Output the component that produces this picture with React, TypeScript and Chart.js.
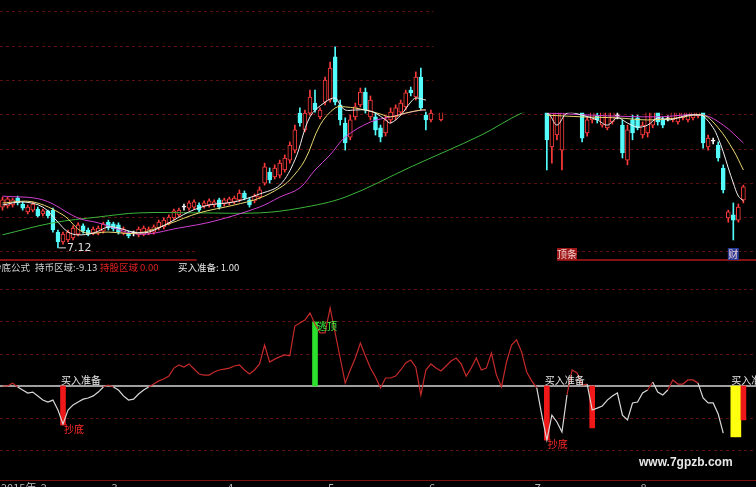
import React, { useEffect, useRef } from 'react';
import { Chart, registerables } from 'chart.js';
Chart.register(...registerables);

type OHLC = [number, number, number, number] | null; // open, high, low, close

const N = 150;
const barLabels = Array.from({ length: N }, (_, i) => String(i));

const candles: OHLC[] = [
  [8.31, 8.6, 8.22, 8.52], [8.34, 8.6, 8.28, 8.55], [8.37, 8.57, 8.31, 8.52], [8.57, 8.63, 8.37, 8.43],
  [8.4, 8.46, 8.22, 8.28], [8.17, 8.37, 8.11, 8.31], [8.22, 8.46, 8.17, 8.4], [8.25, 8.31, 8.02, 8.05],
  [8.11, 8.25, 8.05, 8.2], [8.2, 8.22, 7.99, 8.05], [8.22, 8.28, 7.58, 7.64], [7.58, 7.64, 7.12, 7.29],
  [7.29, 7.58, 7.23, 7.52], [7.35, 7.64, 7.29, 7.58], [7.41, 7.76, 7.35, 7.7], [7.52, 7.85, 7.47, 7.79],
  [7.76, 7.82, 7.55, 7.61], [7.64, 7.7, 7.47, 7.52], [7.55, 7.73, 7.5, 7.67], [7.55, 7.76, 7.5, 7.7],
  [7.61, 7.87, 7.55, 7.82], [7.87, 7.93, 7.64, 7.7], [7.82, 7.87, 7.61, 7.67], [7.79, 7.85, 7.52, 7.58],
  [7.55, 7.73, 7.5, 7.67], [7.55, 7.61, 7.41, 7.47], [7.56, 7.61, 7.47, 7.55], [7.5, 7.73, 7.44, 7.67],
  [7.52, 7.76, 7.47, 7.7], [7.55, 7.73, 7.5, 7.67], [7.58, 7.79, 7.52, 7.73], [7.7, 7.93, 7.64, 7.87],
  [7.73, 7.99, 7.67, 7.93], [7.85, 8.08, 7.79, 8.02], [7.99, 8.25, 7.93, 8.2], [8.08, 8.28, 8.02, 8.22],
  [8.32, 8.4, 8.22, 8.31], [8.28, 8.49, 8.22, 8.43], [8.31, 8.52, 8.25, 8.46], [8.37, 8.43, 8.17, 8.22],
  [8.34, 8.49, 8.28, 8.43], [8.37, 8.55, 8.31, 8.49], [8.37, 8.52, 8.31, 8.46], [8.52, 8.57, 8.25, 8.31],
  [8.4, 8.57, 8.34, 8.52], [8.43, 8.6, 8.37, 8.55], [8.46, 8.63, 8.4, 8.57], [8.52, 8.81, 8.46, 8.72],
  [8.72, 8.78, 8.52, 8.57], [8.52, 8.57, 8.31, 8.37], [8.49, 8.69, 8.43, 8.63], [8.6, 8.9, 8.55, 8.81],
  [9.01, 9.59, 8.95, 9.48], [9.33, 9.45, 9.01, 9.1], [9.19, 9.54, 9.13, 9.45], [9.24, 9.68, 9.16, 9.59],
  [9.39, 9.83, 9.33, 9.74], [9.68, 10.21, 9.59, 10.12], [9.97, 10.7, 9.89, 10.56], [11.05, 11.2, 10.67, 10.76],
  [10.56, 11.14, 10.5, 11.05], [11.05, 11.72, 10.99, 11.52], [11.34, 11.72, 11.08, 11.14], [10.94, 11.2, 10.88, 11.14],
  [11.37, 12.1, 11.29, 12.01], [11.43, 12.54, 11.37, 12.36], [12.69, 12.98, 11.29, 11.37], [11.29, 11.43, 10.7, 10.85],
  [10.76, 10.91, 9.97, 10.18], [10.35, 10.99, 10.27, 10.85], [10.94, 11.34, 10.85, 11.23], [11.29, 11.78, 11.23, 11.66],
  [11.66, 11.78, 11.05, 11.14], [10.94, 11.55, 10.85, 11.43], [10.94, 11.05, 10.41, 10.56], [10.62, 10.7, 10.21, 10.35],
  [10.47, 10.97, 10.38, 10.85], [10.85, 11.2, 10.76, 11.08], [10.94, 11.29, 10.85, 11.2], [11.08, 11.43, 10.99, 11.34],
  [11.23, 11.72, 11.14, 11.64], [11.72, 11.81, 11.55, 11.64], [11.52, 12.25, 11.43, 12.1], [12.1, 12.36, 11.14, 11.2],
  [10.99, 11.08, 10.56, 10.85], [10.85, 11.14, 10.79, 11.05], null, [10.85, 11.2, 10.82, 11.14],
  null, null, null, null, null, null, null, null, null, null,
  null, null, null, null, null, null, null, null, null, null,
  [11.43, 11.58, 9.39, 10.27], [10.06, 11.43, 9.59, 11.29], [10.41, 11.34, 10.27, 11.2], [9.97, 11.43, 9.39, 11.29],
  null, null, null,
  [11.29, 11.4, 10.21, 10.32], [10.47, 10.94, 10.38, 10.85], [10.85, 11.4, 10.76, 11.29], [10.97, 11.05, 10.76, 10.85],
  [10.7, 11.4, 10.64, 11.29], [10.62, 11.4, 10.56, 11.29], [10.79, 11.4, 10.73, 11.29], [10.98, 11.08, 10.88, 10.97],
  [10.7, 10.85, 9.74, 9.89], [9.68, 10.7, 9.54, 10.56], [10.85, 10.99, 10.27, 10.47], [10.91, 10.99, 10.56, 10.62],
  [10.41, 10.79, 10.32, 10.7], [10.47, 11.4, 10.35, 11.29], [10.7, 11.4, 10.62, 11.29], [11.29, 11.4, 10.7, 10.79],
  [10.85, 10.94, 10.62, 10.7], [10.89, 10.97, 10.82, 10.88], [10.85, 11.4, 10.79, 11.29], [10.79, 11.4, 10.73, 11.29],
  [10.91, 11.4, 10.85, 11.29], [10.85, 11.4, 10.79, 11.29], [10.91, 11.4, 10.85, 11.29], [10.97, 11.4, 10.91, 11.29],
  [11.29, 11.4, 10.03, 10.18], [10.06, 10.41, 9.97, 10.32], [10.24, 10.32, 10.15, 10.23], [10.12, 10.21, 9.65, 9.74],
  [9.45, 9.54, 8.72, 8.81], [7.99, 8.22, 7.87, 8.17], [8.08, 8.43, 7.35, 7.93], [7.93, 8.4, 7.87, 8.31],
  [8.52, 8.95, 8.43, 8.9], null, null,
];

// moving averages read at sample bars
const ma5Idx = [0, 4, 8, 11, 13, 15, 18, 21, 23, 26, 29, 33, 37, 41, 46, 51, 55, 58, 61, 64, 66, 67, 68, 70, 72, 74, 76, 77, 79, 81, 82, 84,
  108, 110, 112, 115, 118, 120, 122, 124, 126, 128, 130, 132, 134, 136, 138, 139, 141, 142, 143, 144, 145, 146, 147];
const ma5Val = [8.37, 8.46, 8.31, 7.87, 7.58, 7.5, 7.55, 7.73, 7.7, 7.58, 7.58, 7.85, 8.17, 8.37, 8.46, 8.69, 8.95, 9.68, 10.94, 11.37, 11.49, 11.29, 11.14, 11.14, 11.14, 11.05, 10.85, 10.76, 10.99, 11.37, 11.49, 11.43,
  11.05, 10.7, 11.05, 10.99, 10.85, 10.7, 10.91, 10.76, 10.64, 10.7, 10.91, 10.85, 10.91, 10.99, 10.99, 10.97, 10.62, 10.32, 9.92, 9.45, 9.01, 8.63, 8.49];
const ma10Idx = [0, 6, 12, 16, 21, 27, 33, 39, 46, 51, 55, 57, 60, 63, 66, 68, 72, 75, 77, 80, 83, 84,
  108, 115, 122, 128, 134, 139, 142, 145, 147];
const ma10Val = [8.43, 8.46, 8.08, 7.58, 7.58, 7.55, 7.82, 8.14, 8.37, 8.57, 8.87, 9.1, 9.68, 10.7, 11.2, 11.23, 11.14, 11.02, 10.94, 11.05, 11.14, 11.14,
  10.99, 10.94, 10.91, 10.85, 10.91, 10.99, 10.62, 9.97, 9.39];
const ma20Idx = [0, 8, 15, 19, 27, 35, 42, 51, 55, 59, 62, 65, 68, 73, 77, 81, 84, 108, 120, 130, 139, 143, 147];
const ma20Val = [8.63, 8.52, 7.99, 7.85, 7.52, 7.7, 7.9, 8.31, 8.6, 8.87, 9.39, 9.83, 10.35, 10.79, 10.94, 11.08, 11.14, 11.05, 10.97, 10.94, 10.99, 10.7, 10.18];
const ma60Idx = [0, 10, 19, 27, 39, 51, 59, 68, 81, 95, 103, 106];
const ma60Val = [7.5, 7.85, 8.02, 8.14, 8.14, 8.14, 8.28, 8.6, 9.48, 10.41, 11.05, 11.14];

// lower indicator (抄底公式)
const indicator: (number | null)[] = [
  0, 0, 0.9, -0.3, -1.25, -2.2, -1.9, -3.1, -4.4, -5, -4.4, -7.5, -11.9, -7.5, -5.9, -5, -4.1, -3.75, -3.1, -1.9,
  -0.3, 0.3, -0.3, -1.25, -3.1, -4.4, -4.1, -2.5, -1.25, -0.3, 0.6, 1.6, 2.2, 3.1, 5.6, 6.6, 5.9, 6.9, 5.3, 3.75,
  3.4, 3.4, 4.4, 5, 5.3, 5.6, 6.25, 6.6, 5, 3.75, 5, 6.9, 12.8, 7.5, 8.4, 9.1, 9.7, 9.4, 18.75, 19.7,
  20.6, 22.8, 19.4, 16.6, 16.6, 24.4, 16.6, 8.75, 0.9, 5, 8.75, 13.4, 9.4, 5.6, 2.8, -0.6, 2.5, 2.5, 3.1, 5,
  7.2, 8.1, 5.9, -2.8, 5, 6.9, 5.6, 4.7, 6.25, 7.8, 8.75, 6.9, 3.1, 5.6, 8.75, 5, 5.6, 10.3, 3.4, -0.3,
  7.5, 12.8, 14.4, 10.6, 4.4, 1.6, -0.6, -9.1, -16.9, -9.1, -11.25, -14.4, -2.8, 5, 4.1, 0.3, 0.6, -7.5, -6.9, -6.25,
  -4.4, -3.1, -2.2, -9.1, -10.6, -5.3, -5, -2.2, -1.25, 1.25, -1.9, -2.8, -1.25, 1.9, 0.6, 0.6, 1.9, 1.9, 0.9, -3.75,
  -5.3, -5.3, -8.75, -14.7, null, null, null, null, null, null,
];

const sigIdx = [12, 62, 108, 117, 145, 146, 147];
const sigVal = [-12.2, 20, -16.9, -13.1, -15.9, -15.9, -10.6];
const sigKind = ['buy', 'top', 'buy', 'buy', 'warn', 'warn', 'buy'];
const buyLabelIdx = [12, 108, 145];
const bottomLabelIdx = [12, 108];
const topLabelIdx = [62];

const dateTickIdx = [0, 8, 22, 45, 65, 85, 106, 127];
const dateTickText = ['2015年', '2', '3', '4', '5', '6', '7', '8'];

const markIdx = [112, 145];
const markText = ['顶条', '财'];

const topGrid = [7, 8, 9, 10, 11, 12, 13, 14];
const botGrid = [30, 20, 10, -10, -20];

const CJK = '"Noto Sans CJK SC", "DejaVu Sans", sans-serif';

export default function App() {
  const topRef = useRef<HTMLCanvasElement>(null);
  const botRef = useRef<HTMLCanvasElement>(null);

  useEffect(() => {
    document.body.style.margin = '0';
    document.body.style.background = '#000';
    const RED = '#ff3c3c';
    const CYAN = '#54fcfc';
    const WHITE = '#f2f2f2';
    const colorOf = (c: OHLC) => (!c ? 'rgba(0,0,0,0)' : Math.abs(c[0] - c[3]) < 0.03 ? WHITE : c[3] > c[0] ? RED : CYAN);
    const points = (idx: number[], val: number[]) => idx.map((k, j) => ({ x: barLabels[k], y: val[j] }));
    const maLine = (label: string, data: any[], color: string) => ({
      type: 'line' as const, label, data, borderColor: color, borderWidth: 1, pointRadius: 0,
      spanGaps: 16, tension: 0.35, order: 0,
    });

    const topPlugin = {
      id: 'topDecor',
      afterDatasetsDraw(chart: any) {
        const { ctx, chartArea: ca, scales } = chart;
        const x = scales.x, y = scales.y;
        ctx.save();
        ctx.strokeStyle = '#b01818';
        ctx.lineWidth = 1.5;
        ctx.beginPath();
        ctx.moveTo(ca.left, ca.bottom - 2);
        ctx.lineTo(ca.right, ca.bottom - 2);
        ctx.stroke();
        // blacked-out areas of the original screenshot
        ctx.fillStyle = '#000';
        const m1x = x.getPixelForValue(85) + 2.6;
        ctx.fillRect(m1x, ca.top, ca.right - m1x, y.getPixelForValue(11.06) - ca.top);
        const m2a = x.getPixelForValue(38) + 2.6;
        const m2b = x.getPixelForValue(110);
        const m2y = y.getPixelForValue(7.76);
        ctx.fillRect(m2a, m2y, m2b - m2a, ca.bottom - m2y);
        // event markers
        ctx.font = `10px ${CJK}`;
        ctx.textBaseline = 'middle';
        markIdx.forEach((k, j) => {
          const px = x.getPixelForValue(k);
          const w = markText[j].length * 9 + 2;
          ctx.fillStyle = j === 0 ? '#a01818' : '#2a3c9a';
          ctx.fillRect(px - w / 2, ca.bottom - 14, w, 12);
          ctx.fillStyle = '#f0d0d0';
          ctx.textAlign = 'center';
          ctx.fillText(markText[j], px, ca.bottom - 8);
        });
        // lowest price label
        let lo = Infinity, li = 0;
        candles.forEach((c, k) => { if (c && c[2] < lo) { lo = c[2]; li = k; } });
        const lx = x.getPixelForValue(li), ly = y.getPixelForValue(lo);
        ctx.strokeStyle = '#dddddd';
        ctx.lineWidth = 1;
        ctx.beginPath();
        ctx.moveTo(lx + 1, ly);
        ctx.lineTo(lx + 8, ly);
        ctx.stroke();
        ctx.fillStyle = '#dddddd';
        ctx.textAlign = 'left';
        ctx.font = '11px "DejaVu Sans", sans-serif';
        ctx.fillText(lo.toFixed(2), lx + 9, ly);
        ctx.restore();
      },
    };

    const top = new Chart(topRef.current!, {
      type: 'bar',
      data: {
        labels: barLabels,
        datasets: [
          maLine('MA5', points(ma5Idx, ma5Val), '#f0f0f0'),
          maLine('MA10', points(ma10Idx, ma10Val), '#e8d870'),
          maLine('MA20', points(ma20Idx, ma20Val), '#d040d0'),
          maLine('MA60', points(ma60Idx, ma60Val), '#3cb43c'),
          {
            type: 'bar', label: 'body', data: candles.map((c) => (c ? [c[0], c[3]] : null)) as any,
            backgroundColor: candles.map((c) => (c && c[3] > c[0] && Math.abs(c[0] - c[3]) >= 0.03 ? '#000' : colorOf(c))),
            borderColor: candles.map(colorOf), borderWidth: 1, borderSkipped: false,
            barThickness: 4, grouped: false, minBarLength: 1, order: 2,
          },
          {
            type: 'bar', label: 'wick', data: candles.map((c) => (c ? [c[2], c[1]] : null)) as any,
            backgroundColor: candles.map(colorOf), barThickness: 1, grouped: false, order: 3,
          },
        ] as any,
      },
      options: {
        animation: false, responsive: false, devicePixelRatio: 1,
        layout: { padding: 0 },
        plugins: { legend: { display: false }, tooltip: { enabled: false } },
        scales: {
          x: { display: false, offset: true, grid: { display: false } },
          y: {
            min: 6.708, max: 14.347,
            ticks: { display: false },
            grid: { color: '#5a1010', drawTicks: false, lineWidth: 1 },
            border: { display: false, dash: [3, 3] },
            afterFit: (s: any) => { s.width = 0; },
            afterBuildTicks: (s: any) => { s.ticks = topGrid.map((v) => ({ value: v })); },
          },
        },
      } as any,
      plugins: [topPlugin],
    });

    const sigData: any[] = new Array(N).fill(null);
    const sigColors: string[] = new Array(N).fill('rgba(0,0,0,0)');
    sigIdx.forEach((k, j) => {
      sigData[k] = [0, sigVal[j]];
      sigColors[k] = sigKind[j] === 'top' ? '#2ee02e' : sigKind[j] === 'warn' ? '#ffff10' : '#f01818';
    });

    const botPlugin = {
      id: 'botDecor',
      beforeDatasetsDraw(chart: any) {
        const { ctx, chartArea: ca, scales } = chart;
        const y0 = scales.y.getPixelForValue(0);
        ctx.save();
        ctx.strokeStyle = '#d4d4d4';
        ctx.lineWidth = 1.5;
        ctx.beginPath();
        ctx.moveTo(ca.left, y0);
        ctx.lineTo(ca.right, y0);
        ctx.stroke();
        ctx.strokeStyle = '#7a1010';
        ctx.lineWidth = 1;
        ctx.beginPath();
        ctx.moveTo(ca.left, ca.bottom + 0.5);
        ctx.lineTo(ca.right, ca.bottom + 0.5);
        ctx.stroke();
        ctx.restore();
      },
      afterDatasetsDraw(chart: any) {
        const { ctx, chartArea: ca, scales } = chart;
        const x = scales.x, y = scales.y;
        const y0 = y.getPixelForValue(0);
        ctx.save();
        ctx.font = `10px ${CJK}`;
        ctx.textAlign = 'left';
        ctx.textBaseline = 'bottom';
        ctx.fillStyle = '#e8e8e8';
        buyLabelIdx.forEach((k) => ctx.fillText('买入准备', x.getPixelForValue(k) - 2, y0 - 1));
        ctx.textBaseline = 'middle';
        ctx.fillStyle = '#ff2a2a';
        bottomLabelIdx.forEach((k) => {
          const j = sigIdx.indexOf(k);
          ctx.fillText('抄底', x.getPixelForValue(k) + 1, y.getPixelForValue(sigVal[j]) + 4);
        });
        ctx.fillStyle = '#40ff40';
        topLabelIdx.forEach((k) => {
          const j = sigIdx.indexOf(k);
          ctx.fillText('逃顶', x.getPixelForValue(k) + 2, y.getPixelForValue(sigVal[j]) + 4);
        });
        ctx.fillStyle = '#b8b8b8';
        ctx.textBaseline = 'top';
        ctx.font = `11px ${CJK}`;
        dateTickIdx.forEach((k, j) => {
          const px = j === 0 ? ca.left + 1 : x.getPixelForValue(k) - 2;
          ctx.fillText(dateTickText[j], px, ca.bottom + 2);
        });
        ctx.restore();
      },
    };

    const bot = new Chart(botRef.current!, {
      type: 'bar',
      data: {
        labels: barLabels,
        datasets: [
          {
            type: 'line', label: 'indicator', data: indicator as any, borderWidth: 1.2, pointRadius: 0,
            borderColor: '#d8d8d8', tension: 0, order: 0,
            segment: {
              borderColor: (c: any) => (c.p0.parsed.y + c.p1.parsed.y >= 0 ? '#c42a2a' : '#d8d8d8'),
            },
          },
          {
            type: 'bar', label: 'signal', data: sigData, backgroundColor: sigColors,
            barThickness: 5, grouped: false, order: 1,
          },
        ] as any,
      },
      options: {
        animation: false, responsive: false, devicePixelRatio: 1,
        layout: { padding: { top: 0, bottom: 7, left: 0, right: 0 } },
        plugins: { legend: { display: false }, tooltip: { enabled: false } },
        scales: {
          x: { display: false, offset: true, grid: { display: false } },
          y: {
            min: -29.375, max: 34.6875,
            ticks: { display: false },
            grid: { color: '#5a1010', drawTicks: false, lineWidth: 1 },
            border: { display: false, dash: [3, 3] },
            afterFit: (s: any) => { s.width = 0; },
            afterBuildTicks: (s: any) => { s.ticks = botGrid.map((v) => ({ value: v })); },
          },
        },
      } as any,
      plugins: [botPlugin],
    });

    return () => { top.destroy(); bot.destroy(); };
  }, []);

  const txt: React.CSSProperties = { position: 'absolute', top: 260, fontFamily: CJK, fontSize: 9.5, whiteSpace: 'nowrap', lineHeight: '14px' };
  return (
    <div style={{ position: 'relative', width: 756, height: 487, background: '#000', overflow: 'hidden' }}>
      <canvas ref={topRef} width={756} height={262} style={{ position: 'absolute', left: 0, top: 0 }} />
      <canvas ref={botRef} width={756} height={212} style={{ position: 'absolute', left: 0, top: 275 }} />
      <span style={{ ...txt, left: -8, color: '#d0d0d0' }}>抄底公式</span>
      <span style={{ ...txt, left: 35, color: '#d0d0d0' }}>持币区域:-9.13</span>
      <span style={{ ...txt, left: 100, color: '#e02020' }}>持股区域</span>
      <span style={{ ...txt, left: 140, color: '#e02020' }}>0.00</span>
      <span style={{ ...txt, left: 178, color: '#e6e6e6' }}>买入准备: 1.00</span>
      <span style={{ position: 'absolute', left: 639, top: 455, fontFamily: '"Liberation Sans", Arial, sans-serif', fontWeight: 'bold', fontSize: 12, color: '#e8e8e8' }}>www.7gpzb.com</span>
    </div>
  );
}
